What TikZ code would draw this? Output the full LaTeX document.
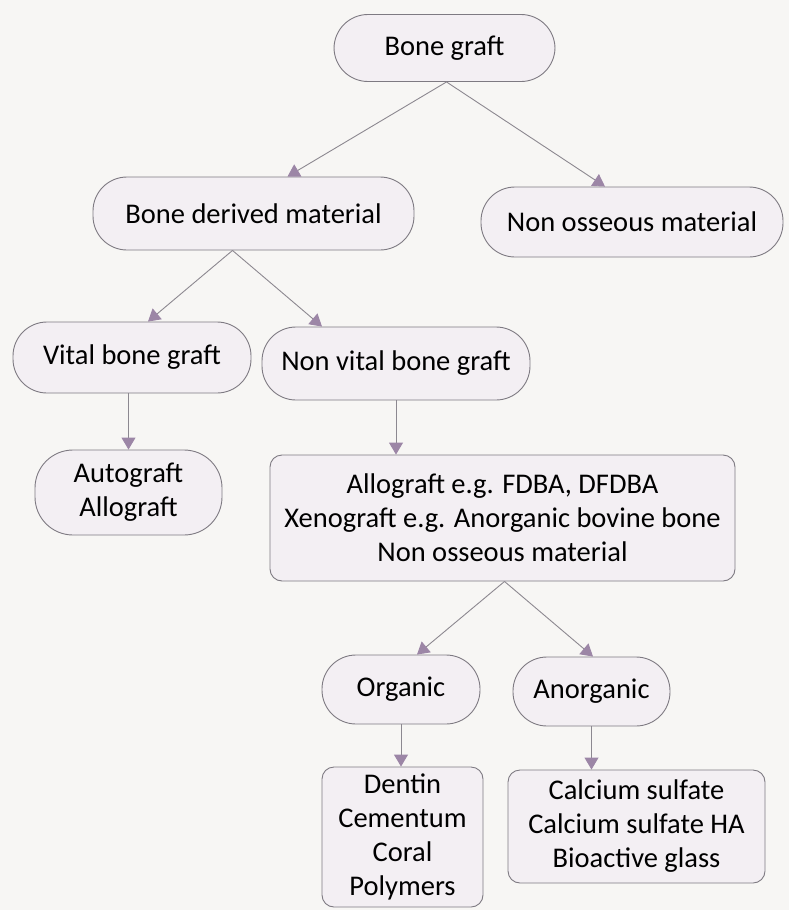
\documentclass[tikz,border=0pt]{standalone}
\usepackage{fontspec}
\setmainfont{Carlito}
\usetikzlibrary{arrows.meta}
\definecolor{pagebg}{HTML}{F7F6F4}
\definecolor{boxfill}{HTML}{F3EFF3}
\definecolor{boxline}{HTML}{7E7A82}
\definecolor{lineclr}{HTML}{8C8890}
\definecolor{tipclr}{HTML}{9C86A6}
\tikzset{
  base/.style={draw=boxline, line width=0.9pt, fill=boxfill, inner sep=0pt,
    font=\fontsize{28.5pt}{34pt}\selectfont, text=black, align=center},
  pill/.style={base, rounded corners=34pt},
  rbox/.style={base, rounded corners=12pt},
  conn/.style={draw=lineclr, line width=0.9pt,
    -{Triangle[width=14pt,length=12pt,fill=tipclr,color=tipclr]}}
}
\begin{document}
\begin{tikzpicture}[x=1pt,y=-1pt]
\fill[pagebg] (0,0) rectangle (789,910);
\useasboundingbox (0,0) rectangle (789,910);

\node[pill, minimum width=221pt, minimum height=67pt] (bg) at (444.5,48) {Bone graft};
\node[pill, minimum width=321pt, minimum height=73pt] (bdm) at (253.5,213.5) {Bone derived material};
\node[pill, minimum width=302pt, minimum height=70pt] (nom) at (632,222) {Non osseous material};
\node[pill, minimum width=238pt, minimum height=71pt] (vbg) at (132,357.5) {Vital bone graft};
\node[pill, minimum width=268pt, minimum height=73pt] (nvbg) at (396,363.5) {Non vital bone graft};
\node[pill, rounded corners=38pt, minimum width=187pt, minimum height=85pt] (aa) at (128.5,492.5) {Autograft\\Allograft};
\node[rbox, minimum width=465pt, minimum height=126pt] (big) at (502.5,518) {Allograft e.g. FDBA, DFDBA\\Xenograft e.g. Anorganic bovine bone\\Non osseous material};
\node[pill, minimum width=158pt, minimum height=69pt] (org) at (401,689.5) {Organic};
\node[pill, minimum width=157pt, minimum height=69pt] (anorg) at (591.5,691.5) {Anorganic};
\node[rbox, minimum width=161pt, minimum height=140pt] (dentin) at (402.5,837) {Dentin\\Cementum\\Coral\\Polymers};
\node[rbox, minimum width=257pt, minimum height=113pt] (calc) at (636.5,826.5) {Calcium sulfate\\Calcium sulfate HA\\Bioactive glass};

\draw[conn] ([xshift=2pt]bg.south) -- ([xshift=34pt]bdm.north);
\draw[conn] ([xshift=2pt]bg.south) -- ([xshift=-27pt]nom.north);
\draw[conn] ([xshift=-21pt]bdm.south) -- ([xshift=16pt]vbg.north);
\draw[conn] ([xshift=-21pt]bdm.south) -- ([xshift=-74pt]nvbg.north);
\draw[conn] (aa.north |- vbg.south) -- (aa.north);
\draw[conn] (nvbg.south) -- (nvbg.south |- big.north);
\draw[conn] ([xshift=2pt]big.south) -- ([xshift=16pt]org.north);
\draw[conn] ([xshift=2pt]big.south) -- ([xshift=1.5pt]anorg.north);
\draw[conn] (org.south) -- (org.south |- dentin.north);
\draw[conn] (anorg.south) -- (anorg.south |- calc.north);
\end{tikzpicture}
\end{document}
